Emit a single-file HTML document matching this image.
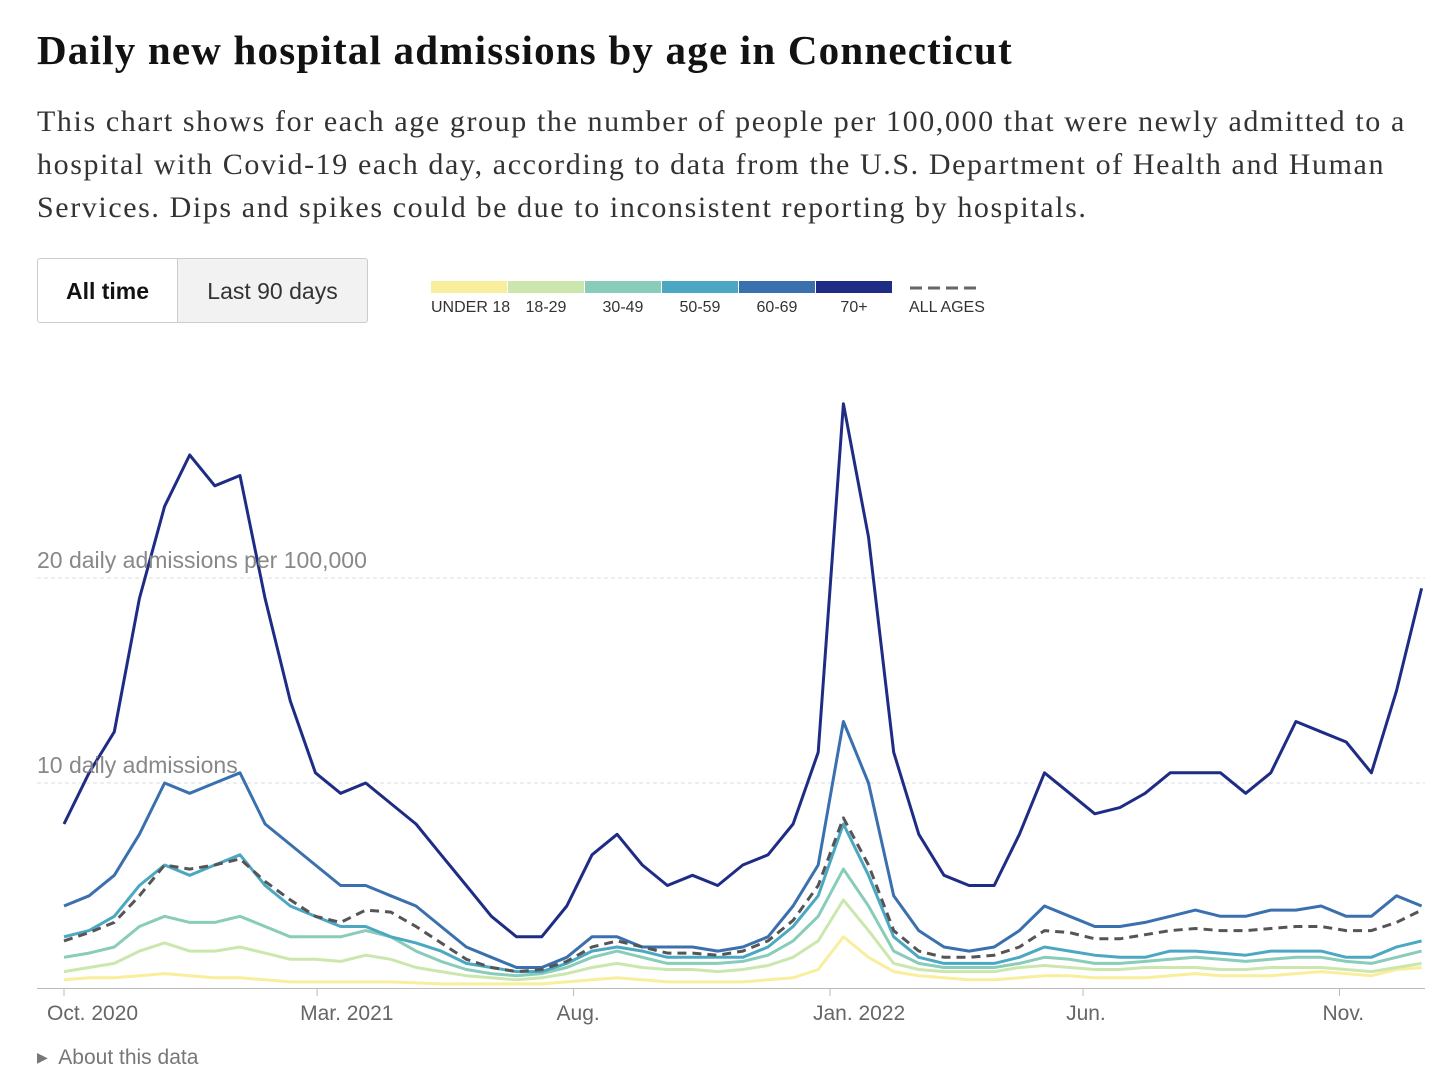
<!DOCTYPE html>
<html><head><meta charset="utf-8">
<style>
body{margin:0;background:#fff;width:1456px;height:1072px;overflow:hidden;position:relative;font-family:"Liberation Sans",sans-serif}
#title{position:absolute;left:37px;top:26px;font:bold 41px "Liberation Serif",serif;color:#121212;letter-spacing:1.2px;margin:0;white-space:nowrap}
#sub{position:absolute;left:37px;top:100px;width:1420px;font:30px/43px "Liberation Serif",serif;letter-spacing:1.6px;color:#333;margin:0}
.btn{position:absolute;top:258px;height:65px;line-height:65px;font-size:23px;text-align:center;border:1px solid #ccc;box-sizing:border-box}
</style></head><body>
<h1 id="title">Daily new hospital admissions by age in Connecticut</h1>
<p id="sub">This chart shows for each age group the number of people per 100,000 that were newly admitted to a hospital with Covid-19 each day, according to data from the U.S. Department of Health and Human Services. Dips and spikes could be due to inconsistent reporting by hospitals.</p>
<div class="btn" style="left:37px;width:141px;font-weight:bold;color:#121212;border-radius:3px 0 0 3px">All time</div>
<div class="btn" style="left:177px;width:191px;background:#f2f2f2;color:#333;border-radius:0 3px 3px 0">Last 90 days</div>
<svg id="chart" width="1456" height="1072" style="position:absolute;left:0;top:0"></svg>
<script>
const legendNames=["UNDER 18","18-29","30-49","50-59","60-69","70+"];
const colors=["#f9ee9c","#cbe7ae","#88ccb9","#4ca8c2","#3a70ae","#1f2c85"];
const xTickLabels=["Oct. 2020","Mar. 2021","Aug.","Jan. 2022","Jun.","Nov."];
const xTickDays=[0,151,304,457,608,761];
const yTicks=[10,20];
const yTickLabels=["10 daily admissions","20 daily admissions per 100,000"];
const stepDays=15;
const under18=[0.4,0.5,0.5,0.6,0.7,0.6,0.5,0.5,0.4,0.3,0.3,0.3,0.3,0.3,0.25,0.2,0.2,0.2,0.2,0.2,0.3,0.4,0.5,0.4,0.3,0.3,0.3,0.3,0.4,0.5,0.9,2.5,1.5,0.8,0.6,0.5,0.4,0.4,0.5,0.6,0.6,0.5,0.5,0.5,0.6,0.7,0.6,0.6,0.6,0.7,0.8,0.7,0.6,0.9,1.0];
const age18_29=[0.8,1,1.2,1.8,2.2,1.8,1.8,2,1.7,1.4,1.4,1.3,1.6,1.4,1,0.8,0.6,0.5,0.4,0.5,0.7,1,1.2,1,0.9,0.9,0.8,0.9,1.1,1.5,2.3,4.3,2.8,1.2,0.9,0.8,0.8,0.8,1,1.1,1,0.9,0.9,1,1,1,0.9,0.9,1,1,1,0.9,0.8,1,1.2];
const age30_49=[1.5,1.7,2,3,3.5,3.2,3.2,3.5,3,2.5,2.5,2.5,2.8,2.5,1.8,1.3,0.9,0.7,0.6,0.7,1,1.5,1.8,1.5,1.2,1.2,1.2,1.3,1.6,2.3,3.5,5.8,4,1.8,1.2,1,1,1,1.2,1.5,1.4,1.2,1.2,1.3,1.4,1.5,1.4,1.3,1.4,1.5,1.5,1.3,1.2,1.5,1.8];
const age50_59=[2.5,2.8,3.5,5,6,5.5,6,6.5,5,4,3.5,3,3,2.5,2.2,1.8,1.2,1,0.8,0.8,1.2,1.8,2,1.8,1.5,1.5,1.5,1.5,2,3,4.5,8,5.5,2.5,1.5,1.2,1.2,1.2,1.5,2,1.8,1.6,1.5,1.5,1.8,1.8,1.7,1.6,1.8,1.8,1.8,1.5,1.5,2,2.3];
const age60_69=[4,4.5,5.5,7.5,10,9.5,10,10.5,8,7,6,5,5,4.5,4,3,2,1.5,1,1,1.5,2.5,2.5,2,2,2,1.8,2,2.5,4,6,13,10,4.5,2.8,2,1.8,2,2.8,4,3.5,3,3,3.2,3.5,3.8,3.5,3.5,3.8,3.8,4,3.5,3.5,4.5,4];
const age70plus=[8,10.5,12.5,19,23.5,26,24.5,25,19,14,10.5,9.5,10,9,8,6.5,5,3.5,2.5,2.5,4,6.5,7.5,6,5,5.5,5,6,6.5,8,11.5,28.5,22,11.5,7.5,5.5,5,5,7.5,10.5,9.5,8.5,8.8,9.5,10.5,10.5,10.5,9.5,10.5,13,12.5,12,10.5,14.5,19.5];
const allAges=[2.3,2.7,3.2,4.5,6,5.8,6,6.3,5.2,4.3,3.5,3.2,3.8,3.7,3,2.2,1.4,1,0.8,0.9,1.3,2,2.3,2,1.7,1.7,1.6,1.8,2.3,3.3,5,8.3,6,2.8,1.8,1.5,1.5,1.6,2,2.8,2.7,2.4,2.4,2.6,2.8,2.9,2.8,2.8,2.9,3,3,2.8,2.8,3.2,3.8];

const NS="http://www.w3.org/2000/svg";
const svg=document.getElementById('chart');
const x=d=>64+d*(1425-64)/812;
const y=v=>988-v*20.5;
function mk(tag,attrs,parent){const e=document.createElementNS(NS,tag);for(const k in attrs)e.setAttribute(k,attrs[k]);(parent||svg).appendChild(e);return e;}

legendNames.forEach((n,i)=>{
  const r=mk('rect',{x:431+i*77,y:281,width:76,height:12,fill:colors[i]});
  
  
  const t=mk('text',{x:431+i*77+(i==0?0:38),y:312,'font-size':16,fill:'#333','text-anchor':i==0?'start':'middle'});
  t.textContent=n;
  
  
});
const ld=mk('line',{x1:910,x2:980,y1:288,y2:288,stroke:'#666','stroke-width':3,'stroke-dasharray':'12,6'});


const lt=mk('text',{x:909,y:312,'font-size':16,fill:'#333'});lt.textContent='ALL AGES';



yTicks.forEach((v,i)=>{
  const g=mk('line',{x1:37,x2:1425,y1:y(v),y2:y(v),stroke:'#ddd','stroke-dasharray':'4,3'});
  
  
});
const base=mk('line',{x1:37,x2:1425,y1:988.5,y2:988.5,stroke:'#bbb'});


xTickDays.forEach((d,i)=>{
  const tk=mk('line',{x1:x(d),x2:x(d),y1:989,y2:996,stroke:'#bbb'});
  
  
  const t=mk('text',{x:x(d)-17,y:1020,'font-size':21,fill:'#666'});t.textContent=xTickLabels[i];
  
  
});

function line(vals,color,name,dash){
  const pts=vals.map((v,i)=>x(i*stepDays).toFixed(1)+','+y(v).toFixed(1)).join(' ');
  const p=mk('polyline',{points:pts,fill:'none',stroke:color,'stroke-width':3,'stroke-linejoin':'round'});
  if(dash)p.setAttribute('stroke-dasharray','9,6');
  
  
}
line(under18,colors[0],'line-under-18');
line(age18_29,colors[1],'line-18-29');
line(age30_49,colors[2],'line-30-49');
line(age50_59,colors[3],'line-50-59');
line(age60_69,colors[4],'line-60-69');
line(allAges,'#555','line-all-ages',true);
line(age70plus,colors[5],'line-70-plus');

yTicks.forEach((v,i)=>{
  const t=mk('text',{x:37,y:y(v)-10,'font-size':23,fill:'#888'});
  t.textContent=yTickLabels[i];
  
  
});
</script>
<div style="position:absolute;left:37px;top:1046px;font-size:21px;color:#777"><span style="font-size:14px;position:relative;top:-2px">▶</span>&nbsp; About this data</div>
</body></html>
